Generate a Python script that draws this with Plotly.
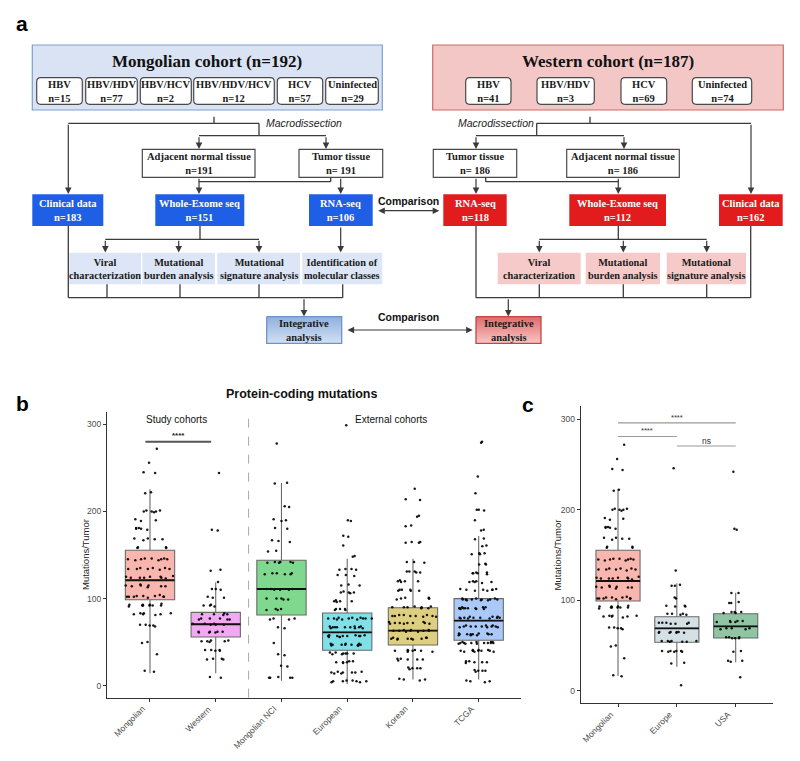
import plotly.graph_objects as go

# ------------------------------------------------------------------ data
mongolian_groups = ["HBV", "HBV/HDV", "HBV/HCV", "HBV/HDV/HCV", "HCV", "Uninfected"]
mongolian_n = [15, 77, 2, 12, 57, 29]
western_groups = ["HBV", "HBV/HDV", "HCV", "Uninfected"]
western_n = [41, 3, 69, 74]

mon_flow = {"total": 192, "adjacent": 191, "tumor": 191, "clinical": 183, "wes": 151, "rna": 106}
wes_flow = {"total": 187, "adjacent": 186, "tumor": 186, "clinical": 162, "wes": 112, "rna": 118}

b_categories = ["Mongolian", "Western", "Mongolian NCI", "European", "Korean", "TCGA"]
b_q1 = [98.7, 55.9, 81.1, 40.6, 46.7, 52.1]
b_median = [121.0, 70.5, 111.0, 61.3, 63.1, 74.6]
b_q3 = [155.4, 84.2, 144.0, 83.4, 89.5, 99.9]
b_lower = [14.2, 14.2, 5.7, 2.0, 7.0, 7.0]
b_upper = [225.4, 118.7, 232.6, 145.8, 145.8, 171.8]
b_colors = ["#F9B6AF", "#F3A9F2", "#80D88F", "#80E0E7", "#DECE80", "#AAC9F7"]

c_categories = ["Mongolian", "Europe", "USA"]
c_q1 = [99.2, 53.5, 58.3]
c_median = [121.3, 68.9, 71.2]
c_q3 = [155.2, 81.8, 85.1]
c_lower = [16.2, 26.5, 31.4]
c_upper = [223.0, 118.7, 108.3]
c_colors = ["#F9B6AF", "#D4E0E4", "#90C5A3"]

mongolian_pts = [272, 256, 245, 244, 222, 221,
                 201, 200, 200, 199, 201, 200, 191, 190, 189,
                 181, 180, 181, 180, 179, 169, 168, 168, 167, 169,
                 159, 158, 158, 159, 146, 145, 145, 144, 146, 145, 144, 145, 146,
                 135, 134, 134, 135, 133, 135, 134, 134,
                 125, 124, 124, 125, 126, 124, 125, 123, 124,
                 115, 114, 115, 114, 113, 115, 116, 114,
                 103, 102, 102, 103, 101, 102, 103, 102, 104, 102,
                 93, 92, 92, 93, 91, 92, 93, 92, 94, 92,
                 83, 82, 82, 83, 81, 82, 83,
                 70, 69, 69, 70, 68, 50, 49, 36, 17, 16]
europe_pts = [246, 133, 117, 116, 116, 103, 102, 94, 93, 94, 93,
              85, 84, 85, 84, 85, 75, 74, 75, 74, 75, 74, 75,
              65, 64, 65, 64, 65, 64, 65, 64, 55, 54, 55, 54, 55, 54, 55,
              44, 43, 44, 43, 44, 43, 44, 31, 30, 6]
usa_pts = [242, 179, 178, 108, 108, 97, 97, 98, 87, 86, 87, 86, 87,
           77, 76, 77, 76, 77, 76, 69, 68, 69, 68, 69,
           59, 58, 59, 58, 59, 58, 44, 43, 33, 33, 32, 15]
western_pts = [244, 179, 178, 133, 132, 119, 111, 110, 111, 101, 102, 101,
               92, 91, 92, 93, 82, 83, 82, 81, 82, 77, 76, 77, 76, 77, 76,
               71, 70, 71, 70, 71, 70, 62, 61, 62, 61, 62, 61, 62,
               51, 52, 51, 50, 51, 52, 41, 40, 41, 40, 41, 31, 30, 31, 30, 10, 9]
nci_pts = [278, 233, 232, 206, 205, 191, 190, 189, 181, 180, 167, 166, 165, 155, 154,
           142, 141, 142, 141, 142, 141, 129, 128, 129, 128, 129, 128,
           111, 110, 111, 110, 111, 110, 100, 99, 100, 99, 100,
           88, 87, 88, 87, 76, 77, 76, 77, 67, 66, 49, 36, 35, 23, 22, 9, 9, 10, 9, 9]
european_pts = [299, 190, 189, 172, 171, 161, 149, 148, 134, 133, 134, 133,
                127, 126, 127, 115, 116, 115, 107, 108, 107, 106, 107,
                97, 98, 97, 96, 97, 88, 87, 88, 87, 88,
                77, 78, 77, 76, 77, 78, 77, 76, 77, 78, 77, 76,
                67, 68, 67, 66, 67, 68, 67, 66, 67, 68, 67, 66,
                57, 58, 57, 56, 57, 58, 57, 56, 57, 58, 57, 56,
                47, 48, 47, 46, 47, 48, 47, 46, 47, 48, 47, 46,
                37, 38, 37, 36, 37, 38, 37, 36, 28, 27, 28, 27, 26, 27,
                15, 16, 15, 14, 15, 16, 15, 14, 5, 6, 5, 4, 5, 6, 5, 4]
korean_pts = [226, 214, 213, 195, 194, 184, 183, 165, 164, 165, 164, 142, 141, 142,
              131, 130, 131, 130, 131, 120, 121, 120, 119, 120,
              110, 109, 110, 109, 110, 109, 100, 101, 100, 99, 100, 101,
              90, 91, 90, 89, 90, 91, 90, 89,
              80, 81, 80, 79, 80, 81, 80, 79, 80, 81,
              72, 71, 72, 73, 72, 71, 72, 73, 72, 71,
              63, 64, 63, 62, 63, 64, 63, 62, 63, 64,
              54, 55, 54, 53, 54, 55, 54, 53, 54, 55,
              40, 41, 40, 39, 40, 41, 40, 39, 30, 31, 30, 29, 30, 31,
              20, 21, 20, 19, 20, 7, 8, 7, 6]
tcga_pts = [280, 279, 240, 221, 202, 201, 202, 190, 178, 179, 169, 168, 161, 160,
            152, 151, 152, 151, 139, 140, 139, 129, 130, 129, 128, 129, 130,
            119, 120, 119, 118, 119, 120, 110, 109, 110, 111, 110, 109, 110, 111,
            99, 100, 99, 98, 99, 100, 99, 98, 99, 100, 99, 98,
            89, 90, 89, 88, 89, 90, 89, 88, 89, 90, 89, 88,
            78, 79, 78, 77, 78, 79, 78, 77, 78, 79, 78, 77,
            68, 69, 68, 67, 68, 69, 68, 67, 68, 69, 68, 67,
            59, 60, 59, 58, 59, 60, 59, 58, 59, 60, 59, 58,
            49, 50, 49, 48, 49, 50, 49, 48, 49, 50, 49, 48, 49, 50,
            40, 41, 40, 39, 40, 41, 40, 39, 40, 41, 40, 39,
            27, 28, 27, 26, 27, 28, 17, 18, 17, 16, 17, 5, 6, 5, 4]

b_points = [mongolian_pts, western_pts, nci_pts, european_pts, korean_pts, tcga_pts]
c_points = [mongolian_pts, europe_pts, usa_pts]

# ------------------------------------------------------------------ helpers
W, H = 800, 761
LINE = "#3a3a3a"
SERIF = "Liberation Serif, Times New Roman, serif"
SANS = "Liberation Sans, Arial, sans-serif"
shapes, annotations = [], []


def px_line(x0, y0, x1, y1, color=LINE, width=1.3):
    shapes.append(dict(type="line", xref="x", yref="y", x0=x0, y0=y0, x1=x1, y1=y1,
                       line=dict(color=color, width=width)))


def px_arrow(x0, y0, x1, y1, both=False):
    annotations.append(dict(x=x1, y=y1, ax=x0, ay=y0, xref="x", yref="y", axref="x", ayref="y",
                            showarrow=True, arrowhead=2, arrowsize=1.1, arrowwidth=1.2,
                            arrowcolor=LINE, text="", arrowside="end+start" if both else "end"))


def px_rect(x0, y0, x1, y1, fill, border=None, bw=1.2):
    shapes.append(dict(type="rect", xref="x", yref="y", x0=x0, y0=y0, x1=x1, y1=y1,
                       fillcolor=fill, line=dict(color=border or "rgba(0,0,0,0)", width=bw if border else 0),
                       layer="below"))


def px_round(x0, y0, x1, y1, r=4):
    p = (f"M{x0+r},{y0} L{x1-r},{y0} Q{x1},{y0} {x1},{y0+r} L{x1},{y1-r} Q{x1},{y1} {x1-r},{y1} "
         f"L{x0+r},{y1} Q{x0},{y1} {x0},{y1-r} L{x0},{y0+r} Q{x0},{y0} {x0+r},{y0} Z")
    shapes.append(dict(type="path", xref="x", yref="y", path=p, fillcolor="white",
                       line=dict(color="#4a4a4a", width=1.2), layer="below"))


def px_text(x, y, text, size=10.5, color="#1a1a1a", family=SERIF, bold=True, italic=False, angle=0):
    t = text
    if bold:
        t = "<b>" + t + "</b>"
    if italic:
        t = "<i>" + t + "</i>"
    annotations.append(dict(x=x, y=y, xref="x", yref="y", text=t, showarrow=False,
                            font=dict(size=size, color=color, family=family),
                            xanchor="center", yanchor="middle", textangle=angle))


fig = go.Figure()

# ------------------------------------------------------------------ panel a
px_rect(32.3, 45, 382.3, 110, "#DAE3F3", "#7F9FCF")
px_text(207, 61, f"Mongolian cohort (n={mon_flow['total']})", size=17, color="#111")
m_sub = [(36.7, 82.3), (85.7, 137.3), (140.3, 191.3), (193.7, 274.3), (277.3, 322.7), (325.7, 378.3)]
for (x0, x1), g, n in zip(m_sub, mongolian_groups, mongolian_n):
    px_round(x0, 77.7, x1, 104.3)
    px_text((x0 + x1) / 2, 91.2, f"{g}<br>n={n}", size=10.5)

px_rect(432.7, 45, 783.3, 110, "#F4C7C7", "#CF6B6B")
px_text(608.3, 61, f"Western cohort (n={wes_flow['total']})", size=17, color="#111")
w_sub = [(465.7, 511), (537, 594.3), (621, 666.7), (692.3, 751.7)]
for (x0, x1), g, n in zip(w_sub, western_groups, western_n):
    px_round(x0, 77.7, x1, 104.3)
    px_text((x0 + x1) / 2, 91.2, f"{g}<br>n={n}", size=10.5)

# Mongolian flow
px_line(214, 116.7, 214, 123.3)
px_line(68.3, 123.3, 259, 123.3)
px_arrow(68.3, 123.3, 68.3, 194)
px_line(259, 123.3, 259, 135.7)
px_line(199, 135.7, 326, 135.7)
px_arrow(199, 135.7, 199, 149)
px_arrow(326, 135.7, 326, 149)
px_text(304, 122.5, "Macrodissection", size=10.5, family=SANS, bold=False, italic=True, color="#222")
px_rect(142.3, 149.3, 255, 177.3, "white", "#4a4a4a")
px_text(198.6, 163.5, f"Adjacent normal tissue<br>n={mon_flow['adjacent']}")
px_rect(299, 149.3, 382.7, 177.3, "white", "#4a4a4a")
px_text(340.8, 163.5, f"Tumor tissue<br>n= {mon_flow['tumor']}")
px_arrow(199, 177.3, 199, 194)
px_line(330.7, 177.3, 330.7, 181.7)
px_line(199, 181.7, 330.7, 181.7)
px_arrow(340.7, 177.3, 340.7, 194)
BLUE = "#1F5FE6"
px_rect(32.3, 194.3, 103.3, 226, BLUE)
px_text(67.8, 210, f"Clinical data<br>n={mon_flow['clinical']}", color="white")
px_rect(155.3, 194.3, 244.3, 226, BLUE)
px_text(199.8, 210, f"Whole-Exome seq<br>n={mon_flow['wes']}", color="white")
px_rect(309, 194.3, 372.7, 226, BLUE)
px_text(340.8, 210, f"RNA-seq<br>n={mon_flow['rna']}", color="white")
px_line(200, 226, 200, 239.3)
px_line(105.3, 239.3, 259, 239.3)
for xa in (105.3, 178.7, 259):
    px_arrow(xa, 239.3, xa, 252.5)
px_arrow(340.7, 226, 340.7, 252.5)
LB = "#DCE6F6"
m_an = [((69.3, 141), "Viral<br>characterization"), ((142.3, 215), "Mutational<br>burden analysis"),
        ((217.3, 300), "Mutational<br>signature analysis"), ((302.3, 382.3), "Identification of<br>molecular classes")]
for (x0, x1), t in m_an:
    px_rect(x0, 252.7, x1, 284.3, LB)
    px_text((x0 + x1) / 2, 268.8, t, size=10.3)
px_line(68.3, 226, 68.3, 297.7)
for xa in (107, 180, 259, 342.7):
    px_line(xa, 284.3, xa, 297.7)
px_line(68.3, 297.7, 342.7, 297.7)
px_arrow(304, 297.7, 304, 316.5)

# Western flow
px_line(590, 116.7, 590, 123.3)
px_line(536.7, 123.3, 751, 123.3)
px_arrow(751, 123.3, 751, 194)
px_line(536.7, 123.3, 536.7, 135.7)
px_line(476, 135.7, 624, 135.7)
px_arrow(476, 135.7, 476, 149)
px_arrow(624, 135.7, 624, 149)
px_text(495.7, 122.5, "Macrodissection", size=10.5, family=SANS, bold=False, italic=True, color="#222")
px_rect(433.3, 149.3, 516.7, 177.3, "white", "#4a4a4a")
px_text(475, 163.5, f"Tumor tissue<br>n= {wes_flow['tumor']}")
px_rect(566.7, 149.3, 679.3, 177.3, "white", "#4a4a4a")
px_text(623, 163.5, f"Adjacent normal tissue<br>n= {wes_flow['adjacent']}")
px_arrow(476, 177.3, 476, 194)
px_line(485.7, 177.3, 485.7, 181.7)
px_line(485.7, 181.7, 618.3, 181.7)
px_arrow(618.3, 177.3, 618.3, 194)
RED = "#E21C1C"
px_rect(443.3, 194.3, 506.7, 226, RED)
px_text(475, 210, f"RNA-seq<br>n={wes_flow['rna']}", color="white")
px_rect(569.3, 194.3, 666, 226, RED)
px_text(617.7, 210, f"Whole-Exome seq<br>n={wes_flow['wes']}", color="white")
px_rect(719, 194.3, 782.7, 226, RED)
px_text(750.8, 210, f"Clinical data<br>n={wes_flow['clinical']}", color="white")
px_line(618.3, 226, 618.3, 239.3)
px_line(539.3, 239.3, 706.7, 239.3)
for xa in (539.3, 623.3, 706.7):
    px_arrow(xa, 239.3, xa, 252.5)
LP = "#F7CACA"
w_an = [((497.7, 580.7), "Viral<br>characterization"), ((585.7, 660), "Mutational<br>burden analysis"),
        ((666.7, 746), "Mutational<br>signature analysis")]
for (x0, x1), t in w_an:
    px_rect(x0, 252.7, x1, 284.3, LP)
    px_text((x0 + x1) / 2, 268.8, t, size=10.3)
px_line(476, 226, 476, 297.7)
px_line(750.7, 226, 750.7, 297.7)
for xa in (539.3, 623.3, 706.7):
    px_line(xa, 284.3, xa, 297.7)
px_line(476, 297.7, 750.7, 297.7)
px_arrow(508.3, 297.7, 508.3, 316.5)

# integrative boxes (gradient)
for (x0, x1), border, cs in [((266.7, 341.7), "#6F93C8", [[0, "#D3E0F3"], [1, "#8FB0DE"]]),
                             ((476, 541), "#C44545", [[0, "#F9C6C6"], [1, "#E06A6A"]])]:
    fig.add_trace(go.Scatter(x=[x0, x1, x1, x0, x0], y=[316.7, 316.7, 343.3, 343.3, 316.7],
                             mode="lines", fill="toself", line=dict(color=border, width=1.3),
                             fillgradient=dict(type="vertical", colorscale=cs),
                             xaxis="x", yaxis="y", hoverinfo="skip", showlegend=False))
    px_text((x0 + x1) / 2, 330, "Integrative<br>analysis", size=10.5)

# comparisons
px_arrow(376.7, 210.7, 439.3, 210.7, both=True)
px_arrow(346, 330, 472.7, 330, both=True)
px_text(408, 200.5, "Comparison", size=10.5, family=SANS, color="#111")
px_text(408, 316.5, "Comparison", size=10.5, family=SANS, color="#111")

# panel labels / titles
px_text(22, 23, "a", size=21, family=SANS, color="#000")
px_text(22, 403, "b", size=21, family=SANS, color="#000")
px_text(528, 404, "c", size=21, family=SANS, color="#000")
px_text(301, 394, "Protein-coding mutations", size=12.5, family=SANS, color="#111")
px_text(85, 555, "Mutations/Tumor", size=9.5, family=SANS, bold=False, color="#222", angle=-90)
px_text(556.5, 555, "Mutations/Tumor", size=9.5, family=SANS, bold=False, color="#222", angle=-90)

# ------------------------------------------------------------------ panels b & c


def add_boxes(cats, q1, med, q3, lo, up, colors, pts, xa, ya, label_y):
    for i, c in enumerate(cats):
        fig.add_trace(go.Box(x=[c], q1=[q1[i]], median=[med[i]], q3=[q3[i]],
                             lowerfence=[lo[i]], upperfence=[up[i]], width=0.75,
                             fillcolor=colors[i], line=dict(color="#6a6a6a", width=1.1),
                             whiskerwidth=0, boxpoints=False, xaxis=xa, yaxis=ya,
                             hoverinfo="skip", showlegend=False))
        shapes.append(dict(type="line", xref=xa, yref=ya, x0=i - 0.375, x1=i + 0.375,
                           y0=med[i], y1=med[i], line=dict(color="#111", width=1.8)))
        fig.add_trace(go.Box(x=[c] * len(pts[i]), y=pts[i], width=0.75, boxpoints="all",
                             jitter=1.0, pointpos=0, fillcolor="rgba(0,0,0,0)",
                             line=dict(color="rgba(0,0,0,0)", width=0), whiskerwidth=0,
                             marker=dict(color="#000", size=2.5, opacity=0.9),
                             xaxis=xa, yaxis=ya, hoverinfo="skip", showlegend=False))
        annotations.append(dict(x=i, y=label_y, xref=xa, yref="y", text=c, showarrow=False,
                                textangle=-45, xanchor="right", yanchor="top",
                                font=dict(size=8.5, color="#4d4d4d", family=SANS)))


add_boxes(b_categories, b_q1, b_median, b_q3, b_lower, b_upper, b_colors, b_points, "x2", "y2", 701)
add_boxes(c_categories, c_q1, c_median, c_q3, c_lower, c_upper, c_colors, c_points, "x3", "y3", 706.5)

# panel b annotations
shapes.append(dict(type="line", xref="x2", yref="y2 domain", x0=1.5, x1=1.5, y0=0, y1=0.995,
                   line=dict(color="#a8a8a8", width=1, dash="dash")))
shapes.append(dict(type="line", xref="x2", yref="y2", x0=-0.07, x1=0.93, y0=280, y1=280,
                   line=dict(color="#555", width=2)))
annotations.append(dict(x=0.43, y=287.5, xref="x2", yref="y2", text="<b>****</b>", showarrow=False,
                        font=dict(size=8, color="#222", family=SANS)))
annotations.append(dict(x=0.405, y=305, xref="x2", yref="y2", text="Study cohorts", showarrow=False,
                        font=dict(size=10, color="#111", family=SANS)))
annotations.append(dict(x=3.66, y=305, xref="x2", yref="y2", text="External cohorts", showarrow=False,
                        font=dict(size=10, color="#111", family=SANS)))
for (x0, x1, yy, lab, ly) in [(0, 2, 296, "****", 302.5), (0, 1, 281, "****", 288), (1, 2, 270.5, "ns", 276.5)]:
    shapes.append(dict(type="line", xref="x3", yref="y3", x0=x0, x1=x1, y0=yy, y1=yy,
                       line=dict(color="#9a9a9a", width=1.2)))
    annotations.append(dict(x=(x0 + x1) / 2, y=ly, xref="x3", yref="y3", text=lab, showarrow=False,
                            font=dict(size=7.5 if lab != "ns" else 8.5, color="#333", family=SANS)))

axis_common = dict(showline=True, linecolor="#333", linewidth=1.1, ticks="outside", ticklen=3,
                   tickcolor="#333", showgrid=False, zeroline=False,
                   tickfont=dict(size=8.5, color="#4d4d4d", family=SANS))

fig.update_layout(
    width=W, height=H, margin=dict(l=0, r=0, t=0, b=0),
    paper_bgcolor="white", plot_bgcolor="rgba(0,0,0,0)",
    showlegend=False, boxmode="overlay",
    xaxis=dict(domain=[0, 1], range=[0, W], visible=False, fixedrange=True),
    yaxis=dict(domain=[0, 1], range=[H, 0], visible=False, fixedrange=True),
    xaxis2=dict(domain=[107 / W, 520.7 / W], range=[-0.654, 5.639], anchor="y2",
                type="category", categoryorder="array", categoryarray=b_categories,
                showticklabels=False, **{k: v for k, v in axis_common.items() if k != "tickfont"}),
    yaxis2=dict(domain=[1 - 697.7 / H, 1 - 411.7 / H], range=[-13.8, 314.5], anchor="x2",
                tickvals=[0, 100, 200, 300], **axis_common),
    xaxis3=dict(domain=[580.7 / W, 772.7 / W], range=[-0.634, 2.629], anchor="y3",
                type="category", categoryorder="array", categoryarray=c_categories,
                showticklabels=False, **{k: v for k, v in axis_common.items() if k != "tickfont"}),
    yaxis3=dict(domain=[1 - 703.3 / H, 1 - 406 / H], range=[-13.9, 314.7], anchor="x3",
                tickvals=[0, 100, 200, 300], **axis_common),
    shapes=shapes, annotations=annotations,
)

fig.write_html("out.html", config={"displayModeBar": False},
               post_script="document.body.style.margin='0';document.body.style.padding='0';")
